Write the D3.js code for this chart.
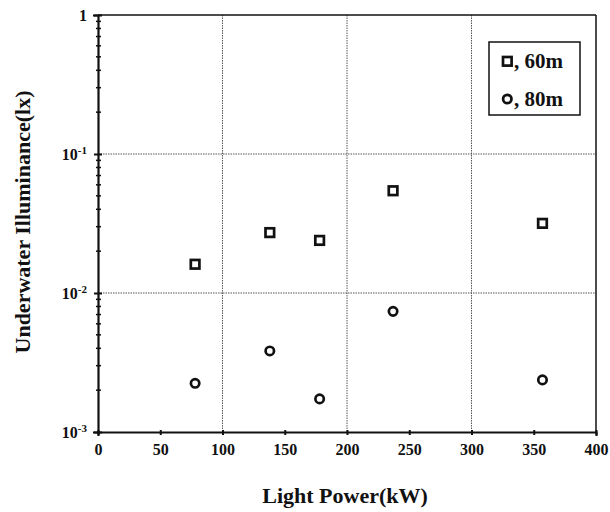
<!DOCTYPE html>
<html>
<head>
<meta charset="utf-8">
<script src="https://cdn.jsdelivr.net/npm/d3@7"></script>
<style>
  body { margin: 0; background: #fff; }
  text { font-family: "Liberation Serif", "Times New Roman", serif; font-weight: bold; fill: #111; }
</style>
</head>
<body>
<svg width="610" height="512"></svg>
<script>
// data
var power = [78, 138, 178, 237, 357];
var illum60 = [0.0161, 0.0272, 0.0239, 0.0544, 0.0317];
var illum80 = [0.00224, 0.00383, 0.00173, 0.00738, 0.00237];
var xTicks = [0, 50, 100, 150, 200, 250, 300, 350, 400];
var yTicks = [1e-3, 1e-2, 1e-1, 1];
var yTickExp = {"0.001": "-3", "0.01": "-2", "0.1": "-1"};

var svg = d3.select("svg");
var pLeft = 98, pRight = 596, pTop = 15, pBottom = 432;

var x = d3.scaleLinear().domain([0, 400]).range([pLeft, pRight]);
var y = d3.scaleLog().domain([1e-3, 1]).range([pBottom, pTop]);

// dotted grid
svg.selectAll("line.gx")
    .data([100, 200, 300])
  .enter().append("line")
    .attr("class", "gx")
    .attr("x1", function(d) { return x(d); })
    .attr("x2", function(d) { return x(d); })
    .attr("y1", pTop).attr("y2", pBottom)
    .style("stroke", "#444").style("stroke-width", 0.9)
    .style("stroke-dasharray", "1.5,1");
svg.selectAll("line.gy")
    .data([1e-2, 1e-1])
  .enter().append("line")
    .attr("class", "gy")
    .attr("y1", function(d) { return y(d); })
    .attr("y2", function(d) { return y(d); })
    .attr("x1", pLeft).attr("x2", pRight)
    .style("stroke", "#444").style("stroke-width", 0.9)
    .style("stroke-dasharray", "1.5,1");

// frame
svg.append("line").attr("x1", pLeft).attr("x2", pRight).attr("y1", pTop).attr("y2", pTop)
    .style("stroke", "#111").style("stroke-width", 1.5);
svg.append("line").attr("x1", pRight).attr("x2", pRight).attr("y1", pTop).attr("y2", pBottom)
    .style("stroke", "#111").style("stroke-width", 1.5);

// x axis
var xAxis = svg.append("g")
    .attr("transform", "translate(0," + pBottom + ")")
    .call(d3.axisBottom(x).tickValues(xTicks).tickSize(4).tickFormat(d3.format("d")));
xAxis.select(".domain").style("stroke", "#111").style("stroke-width", 2.2);
xAxis.selectAll(".tick line").style("stroke", "#111").style("stroke-width", 2)
    .attr("y1", -2).attr("y2", 3);
xAxis.selectAll(".tick text")
    .attr("y", 12)
    .style("font-family", "Liberation Serif").style("font-weight", "bold")
    .style("font-size", "16px").style("fill", "#111");

// y axis
var yAxis = svg.append("g")
    .attr("transform", "translate(" + pLeft + ",0)")
    .call(d3.axisLeft(y).tickValues(yTicks).tickSize(5).tickFormat(""));
yAxis.select(".domain").style("stroke", "#111").style("stroke-width", 2.2);
yAxis.selectAll(".tick line").style("stroke", "#111").style("stroke-width", 2)
    .attr("x1", -4).attr("x2", 4);

// minor log ticks
var minor = [];
[1e-3, 1e-2, 1e-1].forEach(function(b) {
  for (var k = 2; k <= 9; k++) minor.push(b * k);
});
svg.selectAll("line.minor")
    .data(minor)
  .enter().append("line")
    .attr("class", "minor")
    .attr("x1", pLeft - 2).attr("x2", pLeft + 3)
    .attr("y1", function(d) { return y(d); })
    .attr("y2", function(d) { return y(d); })
    .style("stroke", "#111").style("stroke-width", 1.5);

// y tick labels with superscripts
var ylab = svg.selectAll("text.ylab")
    .data(yTicks)
  .enter().append("text")
    .attr("class", "ylab")
    .attr("x", 87)
    .attr("y", function(d) { return y(d) + 6; })
    .attr("text-anchor", "end")
    .style("font-size", "16px");
ylab.each(function(d) {
  var t = d3.select(this);
  if (d === 1) { t.text("1"); return; }
  t.append("tspan").text("10");
  t.append("tspan").attr("dy", -6).style("font-size", "11px").text(yTickExp[String(d)]);
});

// axis titles
svg.append("text")
    .attr("x", 345).attr("y", 503)
    .attr("text-anchor", "middle")
    .style("font-size", "22px")
    .text("Light Power(kW)");
svg.append("text")
    .attr("transform", "translate(30,222) rotate(-90)")
    .attr("text-anchor", "middle")
    .style("font-size", "22px")
    .text("Underwater Illuminance(lx)");

// points
var pts60 = power.map(function(p, i) { return [p, illum60[i]]; });
var pts80 = power.map(function(p, i) { return [p, illum80[i]]; });

svg.selectAll("rect.s60")
    .data(pts60)
  .enter().append("rect")
    .attr("class", "s60")
    .attr("x", function(d) { return x(d[0]) - 4.3; })
    .attr("y", function(d) { return y(d[1]) - 4.3; })
    .attr("width", 8.6).attr("height", 8.6)
    .style("fill", "#fff").style("stroke", "#111").style("stroke-width", 2.7);

svg.selectAll("circle.s80")
    .data(pts80)
  .enter().append("circle")
    .attr("class", "s80")
    .attr("cx", function(d) { return x(d[0]); })
    .attr("cy", function(d) { return y(d[1]); })
    .attr("r", 4.2)
    .style("fill", "#fff").style("stroke", "#111").style("stroke-width", 2.7);

// legend
var lg = svg.append("g");
lg.append("rect")
    .attr("x", 489).attr("y", 42).attr("width", 91).attr("height", 73)
    .style("fill", "#fff").style("stroke", "#111").style("stroke-width", 1.5);
lg.append("rect")
    .attr("x", 503).attr("y", 57).attr("width", 8.6).attr("height", 8.6)
    .style("fill", "#fff").style("stroke", "#111").style("stroke-width", 2.7);
lg.append("text").attr("x", 514).attr("y", 68).style("font-size", "21px").text(", 60m");
lg.append("circle")
    .attr("cx", 507.3).attr("cy", 99).attr("r", 4.2)
    .style("fill", "#fff").style("stroke", "#111").style("stroke-width", 2.7);
lg.append("text").attr("x", 514).attr("y", 106).style("font-size", "21px").text(", 80m");
</script>
</body>
</html>
